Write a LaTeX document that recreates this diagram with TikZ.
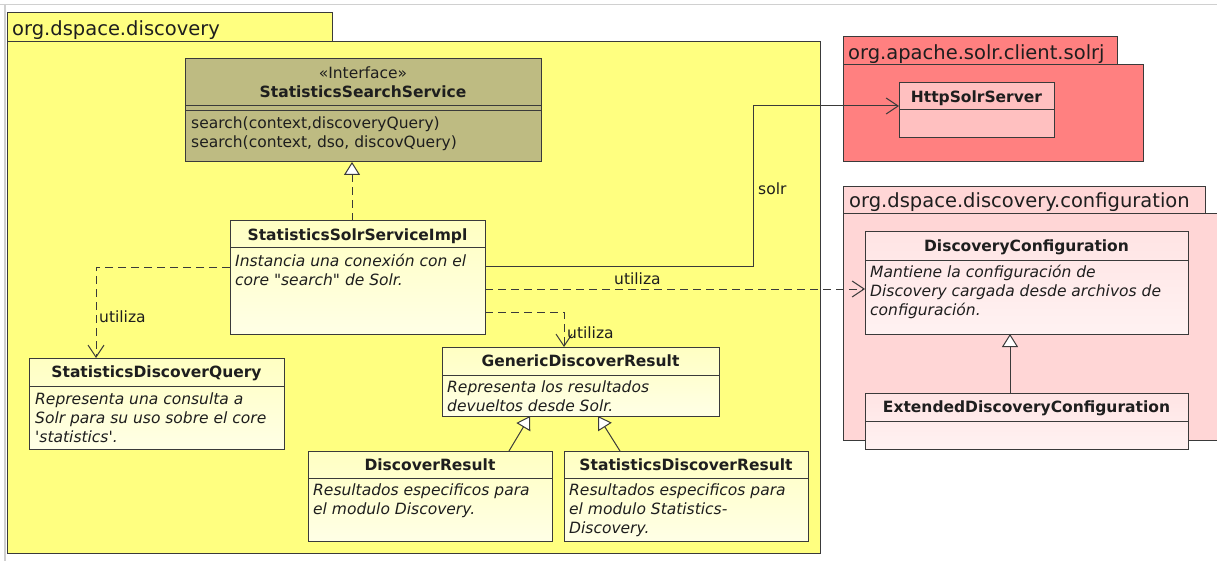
\documentclass[tikz,border=0pt]{standalone}
\usepackage{fontspec}
\setmainfont{DejaVu Sans}[Ligatures=TeXOff]
\usetikzlibrary{arrows.meta,calc}

\definecolor{edge}{HTML}{3A3A3A}
\definecolor{ink}{HTML}{1E1E1E}
\definecolor{frame}{HTML}{D0D0D0}
\definecolor{pkgyellow}{HTML}{FFFF80}
\definecolor{ifaceolive}{HTML}{BEBB82}
\definecolor{clsyellowA}{HTML}{FFFFC2}
\definecolor{clsyellowB}{HTML}{FFFFE6}
\definecolor{pkgred}{HTML}{FF8080}
\definecolor{clsred}{HTML}{FFC0C0}
\definecolor{pkgpink}{HTML}{FFD6D6}
\definecolor{clspinkA}{HTML}{FFE4E4}
\definecolor{clspinkB}{HTML}{FFF2F2}

\newcommand\clsfont{\fontsize{15.5}{19}\selectfont}
\newcommand\pkgfont{\fontsize{19.5}{23}\selectfont}

\tikzset{
  box/.style={draw=edge, line width=1pt, anchor=north west, inner sep=0pt, outer sep=0pt},
  pkgbox/.style={box},
  clsbox/.style={box, top color=clsyellowA, bottom color=clsyellowB},
  confbox/.style={box, top color=clspinkA, bottom color=clspinkB},
  divider/.style={draw=edge, line width=1pt},
  pkgname/.style={font=\pkgfont, text=ink, anchor=base west, inner sep=0pt},
  clsname/.style={font=\clsfont\bfseries, text=ink, anchor=base, inner sep=0pt},
  clsnote/.style={font=\clsfont\itshape, text=ink, anchor=north west, align=left, inner sep=0pt},
  clsops/.style={font=\clsfont, text=ink, anchor=north west, align=left, inner sep=0pt},
  lbl/.style={font=\clsfont, text=ink, anchor=base west, inner sep=0pt},
  conn/.style={draw=edge, line width=1pt},
  gen/.style={conn, -{Triangle[width=16pt,length=13pt,fill=white,line width=1pt]}},
  real/.style={gen, dash pattern=on 8pt off 5pt},
  dep/.style={conn, dash pattern=on 8pt off 5pt, -{Straight Barb[length=12pt,width=16pt,line width=1pt]}},
  assoc/.style={conn, -{Straight Barb[length=12pt,width=16pt,line width=1pt]}},
}

\begin{document}
\begin{tikzpicture}[x=1pt, y=-1pt]
  \useasboundingbox (0,0) rectangle (1217,561);
  \fill[white] (0,0) rectangle (1217,561);
  \draw[frame, line width=1.5pt] (0,4.5) -- (1217,4.5);
  \draw[frame, line width=1.5pt] (5,4.5) -- (5,561);

  % package org.dspace.discovery
  \node[pkgbox, fill=pkgyellow, minimum width=325, minimum height=29] (disctab) at (7,13) {};
  \node[pkgbox, fill=pkgyellow, minimum width=813, minimum height=511] (disc) at (7,42) {};
  \node[pkgname] (discname) at (12,36) {org.dspace.discovery};

  % package org.apache.solr.client.solrj
  \node[pkgbox, fill=pkgred, minimum width=274, minimum height=28] (solrjtab) at (843,37) {};
  \node[pkgbox, fill=pkgred, minimum width=300, minimum height=97] (solrj) at (843,65) {};
  \node[pkgname] (solrjname) at (848,59.5) {org.apache.solr.client.solrj};

  % package org.dspace.discovery.configuration
  \node[pkgbox, fill=pkgpink, minimum width=362, minimum height=27] (conftab) at (843,187) {};
  \node[pkgbox, fill=pkgpink, minimum width=390, minimum height=226] (conf) at (843,214) {};
  \node[pkgname] (confname) at (849,208) {org.dspace.discovery.configuration};

  % interface StatisticsSearchService
  \node[box, fill=ifaceolive, minimum width=356, minimum height=103] (iface) at (185,59) {};
  \draw[divider] ($(iface.north west)+(0,47)$) -- ($(iface.north east)+(0,47)$);
  \draw[divider] ($(iface.north west)+(0,52)$) -- ($(iface.north east)+(0,52)$);
  \node[font=\clsfont, text=ink, anchor=base, inner sep=0pt] (ifacestereo) at (363,79) {«Interface»};
  \node[clsname] (ifacename) at (363,98) {StatisticsSearchService};
  \node[clsops] (ifaceops) at (191,115) {\strut search(context,discoveryQuery)\\search(context, dso, discovQuery)};

  % StatisticsSolrServiceImpl
  \node[clsbox, minimum width=255, minimum height=113] (impl) at (230,221) {};
  \draw[divider] ($(impl.north west)+(0,27)$) -- ($(impl.north east)+(0,27)$);
  \node[clsname] (implname) at (357.5,240.2) {StatisticsSolrServiceImpl};
  \node[clsnote] (implnote) at (235,252.5) {\strut Instancia una conexión con el\\core "search" de Solr.};

  % StatisticsDiscoverQuery
  \node[clsbox, minimum width=255, minimum height=91] (sdq) at (29,358) {};
  \draw[divider] ($(sdq.north west)+(0,28)$) -- ($(sdq.north east)+(0,28)$);
  \node[clsname] (sdqname) at (156.5,377.7) {StatisticsDiscoverQuery};
  \node[clsnote] (sdqnote) at (35,390.5) {\strut Representa una consulta a\\Solr para su uso sobre el core\\'statistics'.};

  % GenericDiscoverResult
  \node[clsbox, minimum width=277, minimum height=69] (gdr) at (442,347) {};
  \draw[divider] ($(gdr.north west)+(0,28)$) -- ($(gdr.north east)+(0,28)$);
  \node[clsname] (gdrname) at (580.5,366.7) {GenericDiscoverResult};
  \node[clsnote] (gdrnote) at (447,379) {\strut Representa los resultados\\devueltos desde Solr.};

  % DiscoverResult
  \node[clsbox, minimum width=244, minimum height=90] (dr) at (308,451) {};
  \draw[divider] ($(dr.north west)+(0,27)$) -- ($(dr.north east)+(0,27)$);
  \node[clsname] (drname) at (430,470.2) {DiscoverResult};
  \node[clsnote] (drnote) at (313,482) {\strut Resultados especificos para\\el modulo Discovery.};

  % StatisticsDiscoverResult
  \node[clsbox, minimum width=244, minimum height=90] (sdr) at (564,451) {};
  \draw[divider] ($(sdr.north west)+(0,27)$) -- ($(sdr.north east)+(0,27)$);
  \node[clsname] (sdrname) at (686,470.2) {StatisticsDiscoverResult};
  \node[clsnote] (sdrnote) at (569,482) {\strut Resultados especificos para\\el modulo Statistics-\\Discovery.};

  % HttpSolrServer
  \node[box, fill=clsred, minimum width=155, minimum height=55] (http) at (899,83) {};
  \draw[divider] ($(http.north west)+(0,27)$) -- ($(http.north east)+(0,27)$);
  \node[clsname] (httpname) at (976.5,102.2) {HttpSolrServer};

  % DiscoveryConfiguration
  \node[confbox, minimum width=323, minimum height=102] (dc) at (865,232) {};
  \draw[divider] ($(dc.north west)+(0,28)$) -- ($(dc.north east)+(0,28)$);
  \node[clsname] (dcname) at (1026.5,251.7) {DiscoveryConfiguration};
  \node[clsnote] (dcnote) at (870,263.5) {\strut Mantiene la configuración de\\Discovery cargada desde archivos de\\configuración.};

  % ExtendedDiscoveryConfiguration
  \node[confbox, minimum width=323, minimum height=56] (edc) at (865,393) {};
  \draw[divider] ($(edc.north west)+(0,28)$) -- ($(edc.north east)+(0,28)$);
  \node[clsname] (edcname) at (1026.5,412.7) {ExtendedDiscoveryConfiguration};

  % connectors
  \draw[real] ($(impl.north west)+(122,0)$) -- ($(iface.south west)+(167,0)$);

  \coordinate (solrturn) at (753,106);
  \draw[assoc] ($(impl.north east)+(0,45)$) -| (solrturn) -- ($(http.north west)+(0,23)$);
  \node[lbl] (solrlbl) at (758,195) {solr};

  \draw[dep] ($(impl.north east)+(0,68)$) -- ($(dc.north west)+(0,57)$);
  \node[lbl] (uselbl1) at (614,284) {utiliza};

  \draw[dep] ($(impl.north east)+(0,91)$) -| ($(gdr.north west)+(122,0)$);
  \node[lbl] (uselbl2) at (567,338) {utiliza};

  \draw[dep] ($(impl.north west)+(0,46)$) -| ($(sdq.north west)+(67,0)$);
  \node[lbl] (uselbl3) at (99,322) {utiliza};

  \draw[gen] ($(dr.north west)+(201,0)$) -- ($(gdr.south west)+(88,0)$);
  \draw[gen] ($(sdr.north west)+(56,0)$) -- ($(gdr.south west)+(156,0)$);
  \draw[gen] ($(edc.north west)+(145,0)$) -- ($(dc.south west)+(145,0)$);
\end{tikzpicture}
\end{document}
